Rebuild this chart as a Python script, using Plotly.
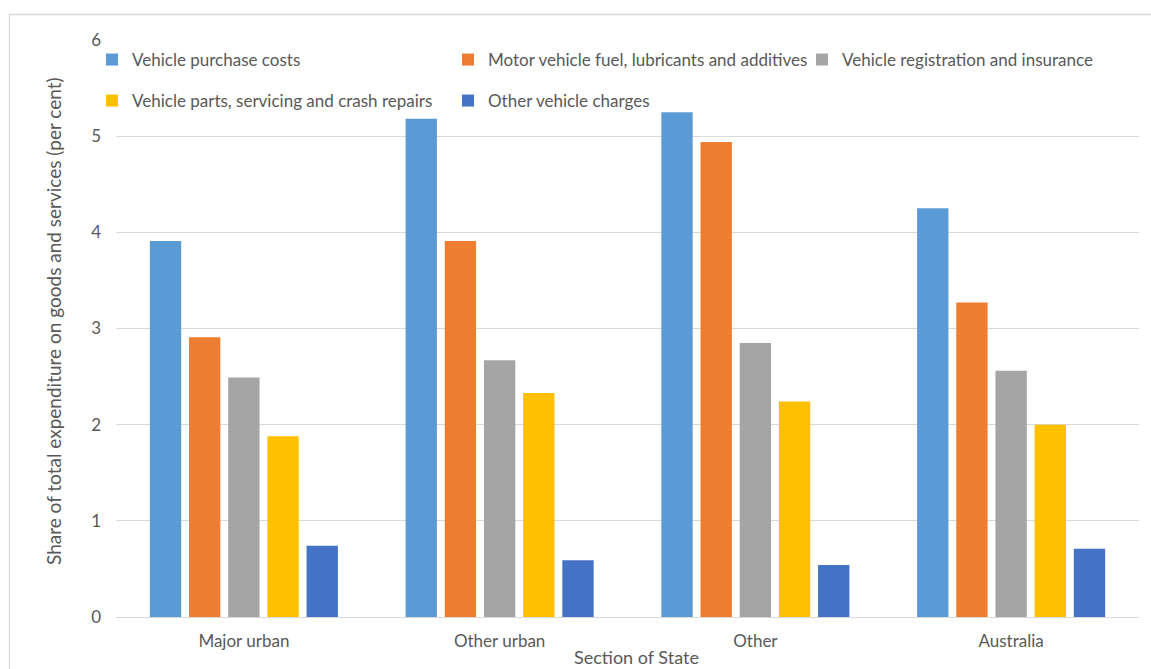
import plotly.graph_objects as go

# Household transport spending by section of state
categories = ["Major urban", "Other urban", "Other", "Australia"]

purchase = [3.91, 5.18, 5.25, 4.25]
fuel = [2.91, 3.91, 4.94, 3.27]
registration = [2.49, 2.67, 2.85, 2.56]
parts = [1.88, 2.33, 2.24, 2.00]
other_charges = [0.74, 0.59, 0.54, 0.71]

series_names = [
    "Vehicle purchase costs",
    "Motor vehicle fuel, lubricants and additives",
    "Vehicle registration and insurance",
    "Vehicle parts, servicing and crash repairs",
    "Other vehicle charges",
]
series_values = [purchase, fuel, registration, parts, other_charges]
series_colors = ["#5B9BD5", "#ED7D31", "#A5A5A5", "#FFC000", "#4472C4"]

y_ticks = [0, 1, 2, 3, 4, 5, 6]

FONT = "Lato"
TEXT = "#595959"
GRID = "#D9D9D9"

W, H = 1151, 669
L, R, T, B = 60, 12, 40, 52
PW, PH = W - L - R, H - T - B
PLOT_LEFT = 116  # left edge of the bar area in pixels

# legend entries laid out in two rows of a three-column grid (text start, row centre)
legend_text_x = [132, 488, 842, 132, 488]
legend_row_y = [60, 60, 60, 101, 101]


def px_x(p):
    return (p - L) / PW


def px_y(p):
    return (H - B - p) / PH


fig = go.Figure()
legend_layout = {}
for i, (name, vals, col) in enumerate(zip(series_names, series_values, series_colors)):
    key = "legend" if i == 0 else f"legend{i + 1}"
    fig.add_trace(go.Bar(
        x=categories, y=vals, name=name, legend=key, showlegend=True,
        marker=dict(color=col, line=dict(width=0)),
    ))
    legend_layout[key] = dict(
        x=px_x(legend_text_x[i] - 40), y=px_y(legend_row_y[i]),
        xanchor="left", yanchor="middle",
        font=dict(family=FONT, size=17, color=TEXT),
        bgcolor="rgba(0,0,0,0)", borderwidth=0,
        itemclick=False, itemdoubleclick=False,
    )

fig.update_layout(
    width=W, height=H,
    margin=dict(l=L, r=R, t=T, b=B),
    paper_bgcolor="white", plot_bgcolor="white",
    showlegend=True,
    barmode="group", bargap=0.234, bargroupgap=0.2,
    font=dict(family=FONT, size=17, color=TEXT),
    xaxis=dict(
        domain=[px_x(PLOT_LEFT), 1],
        showgrid=False, showline=False, ticks="", ticklabelstandoff=12,
        tickfont=dict(family=FONT, size=17, color=TEXT),
    ),
    yaxis=dict(
        range=[0, 6], tickvals=y_ticks, showgrid=True, gridcolor=GRID, gridwidth=1,
        zeroline=True, zerolinecolor=GRID, zerolinewidth=1,
        showline=False, ticks="", ticklabelstandoff=14,
        tickfont=dict(family=FONT, size=17, color=TEXT),
    ),
    shapes=[dict(
        type="rect", xref="paper", yref="paper",
        x0=px_x(9.5), x1=px_x(1165), y0=px_y(14.5), y1=px_y(690),
        line=dict(color=GRID, width=1.3), fillcolor="rgba(0,0,0,0)", layer="below",
    )],
    annotations=[
        dict(
            text="Share of total expenditure on goods and services (per cent)",
            xref="paper", yref="paper", x=px_x(53), y=px_y(321),
            textangle=-90, showarrow=False, xanchor="center", yanchor="middle",
            font=dict(family=FONT, size=19, color=TEXT),
        ),
        dict(
            text="Section of State",
            xref="paper", yref="paper", x=px_x(636), y=px_y(657),
            showarrow=False, xanchor="center", yanchor="middle",
            font=dict(family=FONT, size=18, color=TEXT),
        ),
    ],
    **legend_layout,
)

fig.write_html("out.html")
